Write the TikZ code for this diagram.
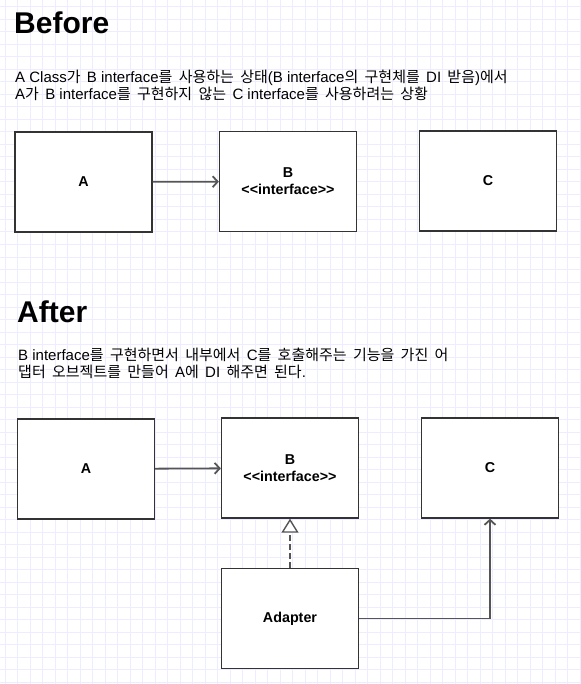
\documentclass[tikz,border=0pt]{standalone}
\usepackage{fontspec}
\setmainfont{Liberation Sans}
\newfontfamily\kr{Noto Sans CJK KR}
\newcommand\ko[1]{{\kr\spaceskip=6.3pt\relax #1}}
\newcommand\stereo[1]{<\kern0pt<#1>\kern0pt>}
\usetikzlibrary{arrows.meta,positioning}

\definecolor{gridcol}{RGB}{238,236,255}
\definecolor{boxline}{RGB}{51,51,51}
\definecolor{linkcol}{RGB}{85,85,85}

\tikzset{
  cls/.style={draw=boxline, line width=1.3pt, fill=white, minimum width=137pt,
    minimum height=100pt, inner sep=0pt, align=center,
    font=\fontsize{14.3}{17}\selectfont\bfseries},
  title/.style={anchor=base west, inner sep=0pt, font=\fontsize{30}{32}\selectfont\bfseries},
  note/.style={anchor=base west, inner sep=0pt, font=\fontsize{15}{16.6}\selectfont},
  link/.style={draw=linkcol, line width=1.8pt, -{Straight Barb[length=5pt,width=11pt]}},
  impl/.style={draw=linkcol, line width=1.8pt, dash pattern=on 6pt off 3pt,
    -{Triangle[open,length=14pt,width=17pt,fill=white,line width=1.4pt]}}
}

\begin{document}
\begin{tikzpicture}[x=1pt,y=-1pt]
        \useasboundingbox (0,0) rectangle (580,684);
        % background grid
        \foreach \i in {0,...,46} {
          \draw[gridcol,line width=1pt] ({5+12.5*\i},0) -- ({5+12.5*\i},684);
        }
        \foreach \j in {0,...,54} {
          \draw[gridcol,line width=1pt] (0,{7+12.5*\j}) -- (580,{7+12.5*\j});
        }
        \begin{scope}
          \node[title] (before) at (14,34) {Before};
          \node[note] (txt1) at (15,82.7) {A Class\ko{가 }B interface\ko{를 사용하는 상태}(B interface\ko{의 구현체를 }DI\ko{ 받음})\ko{에서}};
          \node[note] (txt2) at (15,99.3) {A\ko{가 }B interface\ko{를 구현하지 않는 }C interface\ko{를 사용하려는 상황}};
          \node[cls] (a1) at (83.5,182) {A};
          \node[cls] (b1) at (288,181.5) {B\\\stereo{interface}};
          \node[cls] (c1) at (488,181) {C};
          \draw[link] (a1) -- (b1);
        \end{scope}
        \begin{scope}
          \node[title] (after) at (17,322) {After};
          \node[note] (txt3) at (18,360.7) {B interface\ko{를 구현하면서 내부에서 }C\ko{를 호출해주는 기능을 가진 어}};
          \node[note] (txt4) at (18,377.3) {\ko{댑터 오브젝트를 만들어 }A\ko{에 }DI\ko{ 해주면 된다}.};
          \node[cls] (a2) at (86,469) {A};
          \node[cls] (b2) at (290,468) {B\\\stereo{interface}};
          \node[cls] (c2) at (490,468) {C};
          \node[cls] (adapter) at (290,618.5) {Adapter};
          \draw[link] (a2) -- (b2);
          \draw[impl] (adapter) -- (b2);
          \draw[link] (adapter.east) -| (c2.south);
        \end{scope}
      \end{tikzpicture}
\end{document}
